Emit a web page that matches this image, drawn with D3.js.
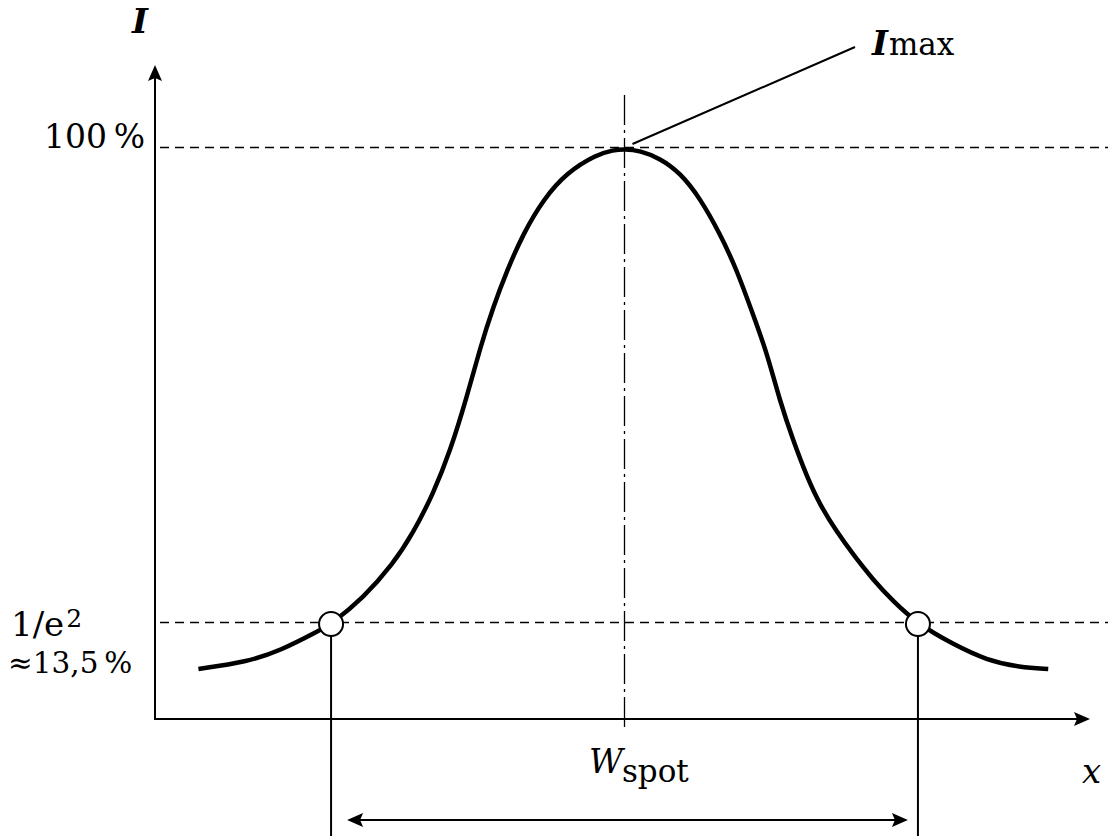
<!DOCTYPE html>
<html>
<head>
<meta charset="utf-8">
<script src="https://cdn.jsdelivr.net/npm/d3@7"></script>
<style>
  body { margin: 0; background: #fff; }
  text { font-family: "DejaVu Serif", serif; fill: #000; }
</style>
</head>
<body>
<svg id="svg" width="1108" height="836"></svg>
<script>
// beam profile, position in units of w (1/e² radius) and intensity in %
const profileX = [-1.452, -1.287, -1.174, -1.037, -1.0, -0.891, -0.789, -0.721, -0.652, -0.594, -0.538, -0.492, -0.447, -0.401, -0.345, -0.277, -0.197, -0.095, -0.038, 0,
                  0.053, 0.121, 0.189, 0.257, 0.325, 0.382, 0.439, 0.484, 0.530, 0.575, 0.621, 0.666, 0.723, 0.780, 0.848, 0.916, 1.0, 1.120, 1.234, 1.348, 1.444];
const profileI = [5.3, 6.6, 8.6, 12.4, 13.5, 18.2, 24.4, 30.0, 37.2, 45.0, 54.7, 63.8, 71.3, 77.8, 84.6, 90.8, 95.7, 99.0, 99.8, 100,
                  99.7, 98.3, 95.7, 91.1, 84.6, 78.1, 69.7, 63.1, 54.0, 46.9, 40.4, 35.2, 30.3, 26.1, 21.5, 17.6, 13.5, 9.8, 6.9, 5.6, 5.3];
const markerX = [-1, 1];
const levels = [100, 13.5];

const width = 1108, height = 836;
const svg = d3.select("#svg");

const x = d3.scaleLinear().domain([-1.6, 1.6]).range([155, 1094]);
const y = d3.scaleLinear().domain([-3.8, 100]).range([719, 149]);

const x0 = x.range()[0], y0 = y.range()[0];
const cx = x(0);

// arrow head pointing along +x, tip at origin
const head = (len, hw) => `M0,0L${-len},${-hw}L${-len + 3},0L${-len},${hw}Z`;

// reference levels
svg.append("g").selectAll("line")
  .data(levels)
  .join("line")
  .attr("x1", x0 + 5).attr("x2", width)
  .attr("y1", d => Math.round(y(d)) - 1.5).attr("y2", d => Math.round(y(d)) - 1.5)
  .attr("stroke", "#000").attr("stroke-width", 1.5)
  .attr("stroke-dasharray", "9,6");

// centre line
svg.append("line")
  .attr("x1", cx).attr("x2", cx)
  .attr("y1", 95).attr("y2", y0 + 8)
  .attr("stroke", "#000").attr("stroke-width", 1.3)
  .attr("stroke-dasharray", "30,5,3,5");

// axes
svg.append("line")
  .attr("x1", x0).attr("x2", x0).attr("y1", y0 + 1).attr("y2", 75)
  .attr("stroke", "#000").attr("stroke-width", 2);
svg.append("path")
  .attr("d", head(16, 7))
  .attr("transform", `translate(${x0},65) rotate(-90)`);
svg.append("line")
  .attr("x1", x0).attr("x2", 1080).attr("y1", y0).attr("y2", y0)
  .attr("stroke", "#000").attr("stroke-width", 2);
svg.append("path")
  .attr("d", head(16, 7))
  .attr("transform", `translate(1090,${y0})`);

// drop lines from the 1/e² points
svg.append("g").selectAll("line")
  .data(markerX)
  .join("line")
  .attr("x1", d => x(d)).attr("x2", d => x(d))
  .attr("y1", y(13.5)).attr("y2", height)
  .attr("stroke", "#000").attr("stroke-width", 2);

// width arrow
const wy = 820;
const wl = x(-1) + 16, wr = x(1) - 10;
svg.append("line")
  .attr("x1", wl + 10).attr("x2", wr - 10).attr("y1", wy).attr("y2", wy)
  .attr("stroke", "#000").attr("stroke-width", 2);
svg.append("path").attr("d", head(16, 7)).attr("transform", `translate(${wl},${wy}) rotate(180)`);
svg.append("path").attr("d", head(16, 7)).attr("transform", `translate(${wr},${wy})`);

// profile curve
const line = d3.line()
  .x((d, i) => x(profileX[i]))
  .y(d => y(d))
  .curve(d3.curveBasis);
svg.append("path")
  .attr("d", line(profileI))
  .attr("fill", "none")
  .attr("stroke", "#000")
  .attr("stroke-width", 4.5);

// 1/e² markers
svg.append("g").selectAll("circle")
  .data(markerX)
  .join("circle")
  .attr("cx", d => x(d)).attr("cy", y(13.5))
  .attr("r", 12)
  .attr("fill", "#fff").attr("stroke", "#000").attr("stroke-width", 2);

// Imax leader
svg.append("line")
  .attr("x1", cx + 8).attr("y1", y(100) - 5)
  .attr("x2", 855).attr("y2", 47)
  .attr("stroke", "#000").attr("stroke-width", 2);

// labels
svg.append("text")
  .attr("x", 132).attr("y", 33)
  .attr("font-size", 34).attr("font-weight", "bold").attr("font-style", "italic")
  .text("I");

const imax = svg.append("text").attr("x", 872).attr("y", 55).attr("font-size", 34);
imax.append("tspan").attr("font-weight", "bold").attr("font-style", "italic").text("I");
imax.append("tspan").attr("dx", 1).attr("font-size", 31).text("max");

svg.append("text")
  .attr("x", 145).attr("y", 148)
  .attr("text-anchor", "end")
  .attr("font-size", 33)
  .text("100\u2009%");

const e2 = svg.append("text").attr("x", 11).attr("y", 636).attr("font-size", 34);
e2.append("tspan").text("1/e");
e2.append("tspan").attr("dx", 2).attr("dy", -9).attr("font-size", 25).text("2");

svg.append("text")
  .attr("x", 8).attr("y", 673)
  .attr("font-size", 29.5)
  .text("\u224813,5\u2009%");

const ws = svg.append("text").attr("x", 589).attr("y", 773).attr("font-size", 33);
ws.append("tspan").attr("font-style", "italic").text("W");
ws.append("tspan").attr("dx", -1).attr("dy", 9).attr("font-size", 31).text("spot");

svg.append("text")
  .attr("x", 1082).attr("y", 783)
  .attr("font-size", 34).attr("font-style", "italic")
  .text("x");
</script>
</body>
</html>
